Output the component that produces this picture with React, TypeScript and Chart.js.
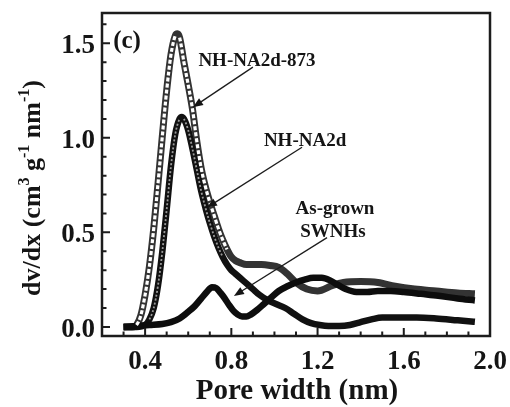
import React, { useEffect, useRef } from 'react';
import { Chart, registerables } from 'chart.js';

Chart.register(...registerables);

// ---------- data ----------
const xMin = 0.2;
const xMax = 2.0;
const yMin = -0.048;
const yMax = 1.66;

const xMajorTicks = [0.4, 0.8, 1.2, 1.6, 2.0];
const xTickLabels = ['0.4', '0.8', '1.2', '1.6', '2.0'];
const xMinorTicks = [0.3, 0.5, 0.6, 0.7, 0.9, 1.0, 1.1, 1.3, 1.4, 1.5, 1.7, 1.8, 1.9];
const yMajorTicks = [0, 0.5, 1.0, 1.5];
const yTickLabels = ['0.0', '0.5', '1.0', '1.5'];
const yMinorTicks = [0.1, 0.2, 0.3, 0.4, 0.6, 0.7, 0.8, 0.9, 1.1, 1.2, 1.3, 1.4, 1.6];

const xTitle = 'Pore width (nm)';

// NH-NA2d-873 (open circles)
const n873X = [0.30, 0.34, 0.36, 0.38, 0.40, 0.42, 0.44, 0.46, 0.48, 0.50, 0.52, 0.54, 0.55, 0.56, 0.58, 0.60, 0.62, 0.64, 0.66, 0.68, 0.70, 0.72, 0.74, 0.76, 0.78, 0.80, 0.82, 0.84, 0.87, 0.90, 0.94, 0.98, 1.02, 1.06, 1.10, 1.15, 1.20, 1.27, 1.32, 1.40, 1.48, 1.56, 1.65, 1.75, 1.85, 1.93];
const n873Y = [0, 0, 0.01, 0.06, 0.17, 0.32, 0.52, 0.76, 1.01, 1.25, 1.44, 1.54, 1.55, 1.53, 1.40, 1.28, 1.15, 0.98, 0.84, 0.74, 0.66, 0.59, 0.52, 0.46, 0.41, 0.37, 0.35, 0.34, 0.33, 0.33, 0.33, 0.325, 0.315, 0.28, 0.235, 0.2, 0.19, 0.22, 0.235, 0.24, 0.235, 0.215, 0.2, 0.19, 0.18, 0.175];

// NH-NA2d (dense circles)
const na2dX = [0.30, 0.36, 0.40, 0.42, 0.44, 0.46, 0.48, 0.50, 0.52, 0.54, 0.56, 0.57, 0.58, 0.60, 0.62, 0.64, 0.66, 0.68, 0.70, 0.72, 0.74, 0.76, 0.78, 0.80, 0.82, 0.84, 0.87, 0.90, 0.93, 0.97, 1.01, 1.05, 1.09, 1.13, 1.17, 1.21, 1.25, 1.30, 1.35, 1.40, 1.45, 1.50, 1.58, 1.66, 1.75, 1.85, 1.93];
const na2dY = [0, 0, 0.01, 0.04, 0.10, 0.22, 0.40, 0.62, 0.85, 1.02, 1.10, 1.11, 1.10, 1.04, 0.94, 0.83, 0.72, 0.63, 0.55, 0.48, 0.42, 0.37, 0.33, 0.30, 0.28, 0.26, 0.23, 0.20, 0.17, 0.14, 0.12, 0.10, 0.07, 0.04, 0.02, 0.01, 0.005, 0.005, 0.01, 0.025, 0.04, 0.05, 0.05, 0.05, 0.045, 0.035, 0.027];

// As-grown SWNHs (solid)
const agX = [0.30, 0.36, 0.42, 0.48, 0.52, 0.56, 0.60, 0.63, 0.66, 0.69, 0.71, 0.73, 0.75, 0.77, 0.79, 0.81, 0.83, 0.85, 0.87, 0.89, 0.92, 0.95, 0.98, 1.02, 1.06, 1.10, 1.14, 1.18, 1.22, 1.26, 1.29, 1.33, 1.38, 1.43, 1.48, 1.54, 1.60, 1.68, 1.76, 1.85, 1.93];
const agY = [0, 0.005, 0.01, 0.015, 0.025, 0.045, 0.08, 0.11, 0.15, 0.19, 0.21, 0.205, 0.18, 0.15, 0.115, 0.085, 0.065, 0.055, 0.055, 0.065, 0.09, 0.12, 0.15, 0.19, 0.215, 0.235, 0.25, 0.26, 0.26, 0.245, 0.225, 0.2, 0.185, 0.185, 0.19, 0.19, 0.185, 0.175, 0.165, 0.15, 0.14];

// annotation labels and arrows (anchored in data units)
const noteTexts = ['(c)', 'NH-NA2d-873', 'NH-NA2d', 'As-grown', 'SWNHs'];
const noteX = [0.316, 0.919, 1.142, 1.281, 1.271];
const noteY = [1.507, 1.406, 0.981, 0.621, 0.504];
const arrowFromX = [0.900, 1.128, 1.244];
const arrowFromY = [1.374, 0.950, 0.472];
const arrowToX = [0.622, 0.687, 0.812];
const arrowToY = [1.162, 0.631, 0.164];

// ---------- rendering ----------
const FONT = "'Liberation Serif', 'Times New Roman', serif";

const pts = (xs: number[], ys: number[]) => xs.map((x, i) => ({ x, y: ys[i] }));

const steep = (limit: number, color: string) => (ctx: any) => {
  const dx = ctx.p1.parsed.x - ctx.p0.parsed.x;
  const dy = Math.abs(ctx.p1.parsed.y - ctx.p0.parsed.y);
  return dx > 0 && dy / dx > limit ? color : 'rgba(0,0,0,0)';
};

const decor = {
  id: 'decor',
  afterDatasetsDraw(chart: any) {
    const { ctx, chartArea: a, scales } = chart;
    const xs = scales.x;
    const ys = scales.y;
    ctx.save();
    ctx.strokeStyle = '#1c1c1c';
    ctx.fillStyle = '#151515';

    // arrows
    ctx.lineWidth = 1.3;
    for (let i = 0; i < arrowFromX.length; i++) {
      const x0 = xs.getPixelForValue(arrowFromX[i]);
      const y0 = ys.getPixelForValue(arrowFromY[i]);
      const x1 = xs.getPixelForValue(arrowToX[i]);
      const y1 = ys.getPixelForValue(arrowToY[i]);
      const ang = Math.atan2(y1 - y0, x1 - x0);
      ctx.beginPath();
      ctx.moveTo(x0, y0);
      ctx.lineTo(x1 - 6 * Math.cos(ang), y1 - 6 * Math.sin(ang));
      ctx.stroke();
      const L = 10, W = 4;
      ctx.beginPath();
      ctx.moveTo(x1, y1);
      ctx.lineTo(x1 - L * Math.cos(ang) + W * Math.sin(ang), y1 - L * Math.sin(ang) - W * Math.cos(ang));
      ctx.lineTo(x1 - L * Math.cos(ang) - W * Math.sin(ang), y1 - L * Math.sin(ang) + W * Math.cos(ang));
      ctx.closePath();
      ctx.fill();
    }

    // annotation texts
    ctx.textBaseline = 'middle';
    ctx.textAlign = 'center';
    noteTexts.forEach((t, i) => {
      ctx.font = i === 0 ? `bold 25px ${FONT}` : `bold 19px ${FONT}`;
      ctx.fillText(t, xs.getPixelForValue(noteX[i]), ys.getPixelForValue(noteY[i]));
    });

    // frame
    ctx.lineWidth = 2.5;
    ctx.strokeRect(a.left, a.top, a.right - a.left, a.bottom - a.top);

    // ticks (inward)
    ctx.lineWidth = 2;
    ctx.beginPath();
    xMajorTicks.forEach((v) => { const p = xs.getPixelForValue(v); ctx.moveTo(p, a.bottom); ctx.lineTo(p, a.bottom - 8); });
    xMinorTicks.forEach((v) => { const p = xs.getPixelForValue(v); ctx.moveTo(p, a.bottom); ctx.lineTo(p, a.bottom - 4.5); });
    yMajorTicks.forEach((v) => { const p = ys.getPixelForValue(v); ctx.moveTo(a.left, p); ctx.lineTo(a.left + 8, p); });
    yMinorTicks.forEach((v) => { const p = ys.getPixelForValue(v); ctx.moveTo(a.left, p); ctx.lineTo(a.left + 4.5, p); });
    ctx.stroke();

    // tick labels
    ctx.font = `bold 27px ${FONT}`;
    ctx.textAlign = 'center';
    ctx.textBaseline = 'middle';
    xTickLabels.forEach((t, i) => ctx.fillText(t, xs.getPixelForValue(xMajorTicks[i]), a.bottom + 26));
    ctx.textAlign = 'right';
    yTickLabels.forEach((t, i) => ctx.fillText(t, a.left - 7, ys.getPixelForValue(yMajorTicks[i]) + 3));

    // x title
    ctx.font = `bold 29px ${FONT}`;
    ctx.textAlign = 'center';
    ctx.fillText(xTitle, (a.left + a.right) / 2 + 1, a.bottom + 56);

    // y title with superscripts
    const parts: [string, boolean][] = [['dv/dx (cm', false], ['3', true], [' g', false], ['-1', true], [' nm', false], ['-1', true], [')', false]];
    const big = `bold 26px ${FONT}`;
    const small = `bold 16px ${FONT}`;
    let total = 0;
    parts.forEach(([s, sup]) => { ctx.font = sup ? small : big; total += ctx.measureText(s).width; });
    ctx.translate(a.left - 71, a.top + 175);
    ctx.rotate(-Math.PI / 2);
    ctx.textAlign = 'left';
    ctx.textBaseline = 'alphabetic';
    let cx = -total / 2;
    parts.forEach(([s, sup]) => {
      ctx.font = sup ? small : big;
      ctx.fillText(s, cx, sup ? -2 : 9);
      cx += ctx.measureText(s).width;
    });
    ctx.restore();
  },
};

export default function App() {
  const ref = useRef<HTMLCanvasElement | null>(null);
  useEffect(() => {
    document.body.style.margin = '0';
    const canvas = ref.current;
    if (!canvas) return;
    const base = { showLine: true, pointRadius: 0, cubicInterpolationMode: 'monotone' as const, fill: false };
    const chart = new Chart(canvas, {
      type: 'line',
      data: {
        datasets: [
          { ...base, label: 'NH-NA2d-873 core', data: pts(n873X, n873Y), borderWidth: 3.2, borderColor: '#fff', borderDash: [4, 2], segment: { borderColor: steep(2.2, '#ffffff') } },
          { ...base, label: 'NH-NA2d core', data: pts(na2dX, na2dY), borderWidth: 1.8, borderColor: '#999', borderDash: [2, 2], segment: { borderColor: steep(2.2, '#9a9a9a') } },
          { ...base, label: 'As-grown SWNHs', data: pts(agX, agY), borderWidth: 6.5, borderColor: '#0d0d0d' },
          { ...base, label: 'NH-NA2d', data: pts(na2dX, na2dY), borderWidth: 6.5, borderColor: '#111' },
          { ...base, label: 'NH-NA2d-873', data: pts(n873X, n873Y), borderWidth: 7, borderColor: '#333' },
        ],
      },
      options: {
        responsive: false,
        animation: false,
        layout: { padding: { left: 102, top: 13, right: 20, bottom: 71 } },
        plugins: { legend: { display: false }, tooltip: { enabled: false } },
        scales: {
          x: { type: 'linear', min: xMin, max: xMax, display: false },
          y: { type: 'linear', min: yMin, max: yMax, display: false },
        },
      },
      plugins: [decor],
    });
    return () => chart.destroy();
  }, []);
  return (
    <div style={{ width: 510, height: 407, background: '#fff' }}>
      <canvas ref={ref} width={510} height={407} style={{ display: 'block' }} />
    </div>
  );
}
